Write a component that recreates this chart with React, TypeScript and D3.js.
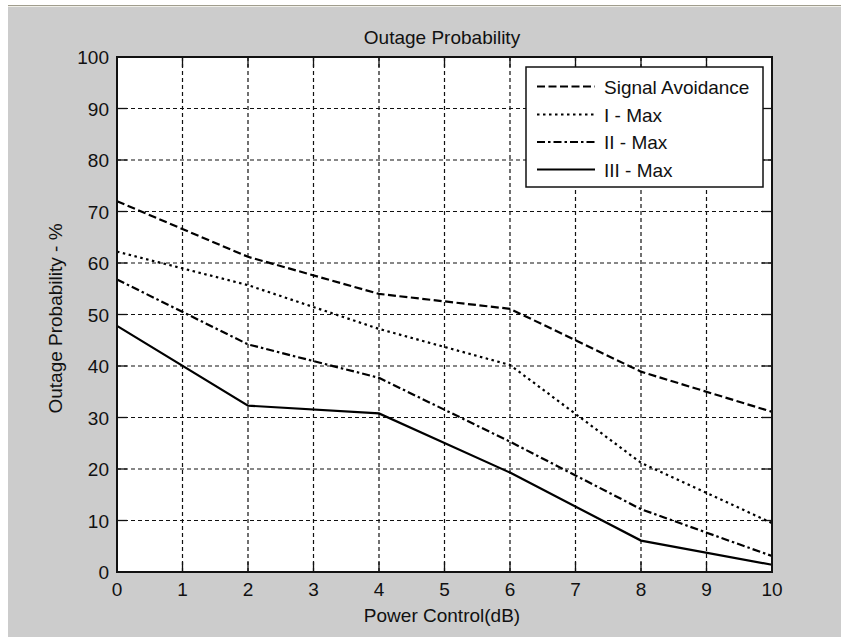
import React from "react";
import * as d3 from "d3";

const powerDb = [0, 2, 4, 6, 8, 10];
const signalAvoidance = [72, 61.2, 54, 51.1, 38.9, 31.1];
const iMax = [62.2, 55.7, 47.2, 40.2, 21.2, 9.5];
const iiMax = [56.8, 44.2, 37.7, 25.3, 12.2, 3.1];
const iiiMax = [47.8, 32.3, 30.8, 19.3, 6.1, 1.4];
const xTicks = [0, 1, 2, 3, 4, 5, 6, 7, 8, 9, 10];
const yTicks = [0, 10, 20, 30, 40, 50, 60, 70, 80, 90, 100];
const seriesNames = ["Signal Avoidance", "I - Max", "II - Max", "III - Max"];

const W = 841;
const H = 637;
const plot = { left: 117, right: 772, top: 57, bottom: 572 };
const font = "'Liberation Sans', Arial, sans-serif";
const dashes = ["8,3.5", "2.5,3.5", "8,3,2.5,3", ""];

const App = () => {
  const x = d3.scaleLinear().domain([0, 10]).range([plot.left, plot.right]);
  const y = d3.scaleLinear().domain([0, 100]).range([plot.bottom, plot.top]);

  const line = d3
    .line<[number, number]>()
    .x((d) => x(d[0]))
    .y((d) => y(d[1]));

  const allSeries = [signalAvoidance, iMax, iiMax, iiiMax];
  const tick = 10;

  // legend box
  const lg = { x: 526, y: 67, w: 237, h: 120 };
  const rowBase = [93.5, 121.5, 149, 176.5];

  return (
    <svg
      width={W}
      height={H}
      style={{ position: "absolute", left: 0, top: 0, background: "#ffffff" }}
      fontFamily={font}
    >
      <rect x={8} y={5} width={W - 8} height={H - 5} fill="#cccccc" />
      <line x1={8} x2={W} y1={5.5} y2={5.5} stroke="#a09d8e" strokeWidth={1} />
      <line x1={8} x2={W} y1={6.5} y2={6.5} stroke="#f0efe8" strokeWidth={1} />

      <rect
        x={plot.left}
        y={plot.top}
        width={plot.right - plot.left}
        height={plot.bottom - plot.top}
        fill="#ffffff"
      />

      {/* grid */}
      {xTicks.slice(1, -1).map((t) => (
        <line
          key={"gx" + t}
          x1={x(t)}
          x2={x(t)}
          y1={plot.top}
          y2={plot.bottom}
          stroke="#111"
          strokeWidth={1.2}
          strokeDasharray="4,3"
        />
      ))}
      {yTicks.slice(1, -1).map((t) => (
        <line
          key={"gy" + t}
          x1={plot.left}
          x2={plot.right}
          y1={y(t)}
          y2={y(t)}
          stroke="#111"
          strokeWidth={1.2}
          strokeDasharray="4,3"
        />
      ))}

      {/* ticks on all four sides */}
      {xTicks.map((t) => (
        <g key={"tx" + t} stroke="#111" strokeWidth={1.3}>
          <line x1={x(t)} x2={x(t)} y1={plot.bottom} y2={plot.bottom - tick} />
          <line x1={x(t)} x2={x(t)} y1={plot.top} y2={plot.top + tick} />
        </g>
      ))}
      {yTicks.map((t) => (
        <g key={"ty" + t} stroke="#111" strokeWidth={1.3}>
          <line x1={plot.left} x2={plot.left + tick} y1={y(t)} y2={y(t)} />
          <line x1={plot.right} x2={plot.right - tick} y1={y(t)} y2={y(t)} />
        </g>
      ))}

      {/* data */}
      {allSeries.map((s, i) => (
        <path
          key={seriesNames[i]}
          d={line(powerDb.map((p, j) => [p, s[j]] as [number, number])) || ""}
          fill="none"
          stroke="#000"
          strokeWidth={2.2}
          strokeDasharray={dashes[i] || undefined}
        />
      ))}

      <rect
        x={plot.left}
        y={plot.top}
        width={plot.right - plot.left}
        height={plot.bottom - plot.top}
        fill="none"
        stroke="#111"
        strokeWidth={2}
      />

      {/* tick labels */}
      {xTicks.map((t) => (
        <text
          key={"lx" + t}
          x={x(t)}
          y={596}
          textAnchor="middle"
          fontSize={19}
          fill="#111"
        >
          {t}
        </text>
      ))}
      {yTicks.map((t) => (
        <text
          key={"ly" + t}
          x={109}
          y={y(t) + 7}
          textAnchor="end"
          fontSize={19}
          fill="#111"
        >
          {t}
        </text>
      ))}

      <text x={442} y={44} textAnchor="middle" fontSize={19} fill="#111">
        Outage Probability
      </text>
      <text x={442} y={622} textAnchor="middle" fontSize={19} fill="#111">
        Power Control(dB)
      </text>
      <text
        transform={`translate(62,${(plot.top + plot.bottom) / 2 + 4}) rotate(-90)`}
        textAnchor="middle"
        fontSize={19}
        fill="#111"
      >
        Outage Probability - %
      </text>

      {/* legend */}
      <rect
        x={lg.x}
        y={lg.y}
        width={lg.w}
        height={lg.h}
        fill="#ffffff"
        stroke="#111"
        strokeWidth={1.5}
      />
      {seriesNames.map((n, i) => (
        <g key={"lg" + n}>
          <line
            x1={537}
            x2={595}
            y1={rowBase[i] - 7}
            y2={rowBase[i] - 7}
            stroke="#000"
            strokeWidth={2.2}
            strokeDasharray={dashes[i] || undefined}
          />
          <text x={604} y={rowBase[i]} fontSize={19} fill="#111">
            {n}
          </text>
        </g>
      ))}
    </svg>
  );
};

export default App;
